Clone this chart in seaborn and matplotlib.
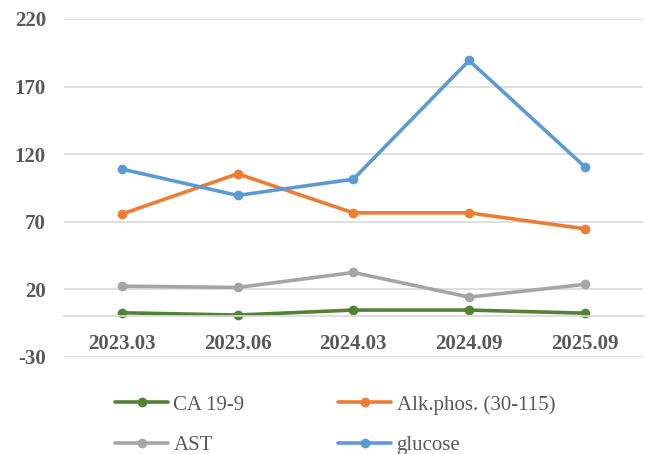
import matplotlib
matplotlib.use('Agg')
import matplotlib.pyplot as plt
import seaborn as sns
import pandas as pd

dates = ['2023.03', '2023.06', '2024.03', '2024.09', '2025.09']
ca199 = [2.7, 1.0, 4.7, 4.7, 2.4]
alkphos = [75.7, 105.5, 76.6, 76.6, 64.8]
ast = [22.4, 21.4, 32.5, 14.3, 23.7]
glucose = [109.0, 89.5, 101.5, 189.3, 110.6]

series_names = ['CA 19-9', 'Alk.phos. (30-115)', 'AST', 'glucose']
series_colors = ['#548235', '#ED7D31', '#A5A5A5', '#5B9BD5']
y_ticks = [-30, 20, 70, 120, 170, 220]

rows = []
for name, vals in zip(series_names, [ca199, alkphos, ast, glucose]):
    for d, v in zip(dates, vals):
        rows.append({'date': d, 'value': v, 'series': name})
df = pd.DataFrame(rows)

sns.set_style('white')
plt.rcParams['font.family'] = ['Liberation Serif', 'DejaVu Serif']

fig = plt.figure(figsize=(6.46, 4.54), dpi=100)
ax = fig.add_axes([0.099, 0.2137, 0.896, 0.7445])

sns.lineplot(data=df, x='date', y='value', hue='series', hue_order=series_names,
             palette=series_colors, marker='o', markersize=7, markeredgewidth=0,
             linewidth=2.6, ax=ax, sort=False)

ax.set_xlim(-0.5, 4.5)
ax.set_ylim(-30, 220)
ax.set_yticks(y_ticks)
ax.set_yticklabels([str(t) for t in y_ticks])
ax.grid(axis='y', color='#D9D9D9', linewidth=1.2)
ax.set_axisbelow(True)
for s in ['top', 'right', 'left']:
    ax.spines[s].set_visible(False)
ax.spines['bottom'].set_position(('data', 0))
ax.spines['bottom'].set_color('#D9D9D9')
ax.spines['bottom'].set_linewidth(1.2)
ax.set_xlabel('')
ax.set_ylabel('')
ax.tick_params(axis='x', length=0, pad=13, labelsize=15, labelcolor='#595959')
ax.tick_params(axis='y', length=0, pad=13, labelsize=15, labelcolor='#595959')
for lab in ax.get_xticklabels() + ax.get_yticklabels():
    lab.set_fontweight('bold')

handles, labels = ax.get_legend_handles_labels()
order = [0, 2, 1, 3]
ax.legend([handles[i] for i in order], [labels[i] for i in order],
          ncol=2, loc='upper left', bbox_to_anchor=(0.178, 0.130),
          bbox_transform=fig.transFigure, frameon=False, fontsize=15,
          labelcolor='#595959', handlelength=2.55, handletextpad=0.25,
          columnspacing=4.5, labelspacing=1.0, borderpad=0, borderaxespad=0)

fig.savefig('out.png', dpi=100)
